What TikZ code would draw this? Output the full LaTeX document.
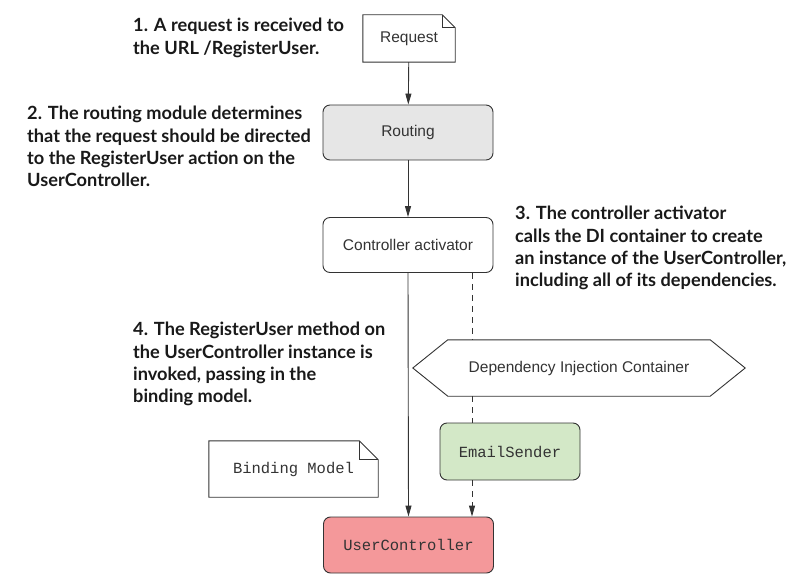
\documentclass[tikz,border=0pt]{standalone}
\usepackage{fontspec}
\setmainfont{Liberation Sans}
\newfontfamily\annotfont{Lato}
\newfontfamily\codefont{Liberation Mono}
\usetikzlibrary{arrows.meta}
\definecolor{linec}{HTML}{333333}
\definecolor{routingfill}{HTML}{E6E6E6}
\definecolor{emailfill}{HTML}{D3E8C7}
\definecolor{ucfill}{HTML}{F4989A}
\begin{document}
\begin{tikzpicture}[x=1pt,y=-1pt,
  box/.style={draw=linec,line width=0.9pt,rounded corners=7pt,minimum width=170pt,minimum height=55pt,font=\fontsize{15.5}{18}\selectfont,text=black!80,inner sep=0pt},
  codebox/.style={box,font=\codefont\fontsize{15.5}{18}\selectfont},
  notebox/.style={inner sep=0pt},
  annot/.style={anchor=north west,align=left,inner sep=0pt,font=\annotfont\bfseries\fontsize{18.2}{22.4}\selectfont,text=black!90},
  arr/.style={draw=linec,line width=0.9pt,-{Triangle[length=11pt,width=6pt]}},
  dsh/.style={draw=linec,line width=0.9pt,dash pattern=on 6pt off 5pt}
]
\useasboundingbox (0,0) rectangle (811,588);
% Request note
\node[notebox,minimum width=92pt,minimum height=47pt,font=\fontsize{15.5}{18}\selectfont,text=black!80] (req) at (409,38.5) {Request};
\draw[linec,line width=0.9pt] (req.south west) -- (req.north west) -- ([xshift=-13pt]req.north east) -- ([yshift=-13pt]req.north east) -- (req.south east) -- cycle;
\draw[linec,line width=0.9pt] ([xshift=-13pt]req.north east) -- ([xshift=-13pt,yshift=-13pt]req.north east) -- ([yshift=-13pt]req.north east);
% Routing
\node[box,fill=routingfill] (rt) at (408,132.5) {Routing};
% Controller activator
\node[box,fill=white] (ca) at (408,245) {Controller activator};
% DI container
\node[inner sep=0pt,minimum width=332pt,minimum height=56pt,font=\fontsize{15.5}{18}\selectfont,text=black!80] (di) at (579,368) {Dependency Injection Container};
\draw[linec,line width=0.9pt] (di.west) -- ([xshift=35pt]di.north west) -- ([xshift=-35pt]di.north east) -- (di.east) -- ([xshift=-35pt]di.south east) -- ([xshift=35pt]di.south west) -- cycle;
% EmailSender
\node[codebox,fill=emailfill,minimum width=140pt,minimum height=57pt] (em) at (510,451.5) {EmailSender};
% UserController
\node[codebox,fill=ucfill,minimum height=56pt] (uc) at (408.5,545) {UserController};
% Binding model note
\node[notebox,minimum width=169pt,minimum height=56pt,font=\codefont\fontsize{15.5}{18}\selectfont,text=black!80] (bm) at (293.5,469) {Binding Model};
\draw[linec,line width=0.9pt] (bm.south west) -- (bm.north west) -- ([xshift=-19pt]bm.north east) -- ([yshift=-19pt]bm.north east) -- (bm.south east) -- cycle;
\draw[linec,line width=0.9pt] ([xshift=-19pt]bm.north east) -- ([xshift=-19pt,yshift=-19pt]bm.north east) -- ([yshift=-19pt]bm.north east);
% connectors
\draw[arr] (req) -- (rt);
\draw[arr] (rt) -- (ca);
\draw[arr] (ca.south) -- (uc.north);
\coordinate (dtop) at ([xshift=64pt]ca.south);
\coordinate (ddi) at (dtop |- di.north);
\draw[dsh] (dtop) -- (ddi);
\coordinate (dem) at (dtop |- em.north);
\draw[dsh] (dtop |- di.south) -- (dem);
\draw[dsh,-{Triangle[length=11pt,width=6pt]}] (dtop |- em.south) -- (dtop |- uc.north);
% annotations
\node[annot] (t1) at (133,18) {1. A request is received to\\the URL /RegisterUser.};
\node[annot] (t2) at (27,106) {2. The routing module determines\\that the request should be directed\\to the RegisterUser action on the\\UserController.};
\node[annot] (t3) at (515,206) {3. The controller activator\\calls the DI container to create\\an instance of the UserController,\\including all of its dependencies.};
\node[annot] (t4) at (133,322) {4. The RegisterUser method on\\the UserController instance is\\invoked, passing in the\\binding model.};
\end{tikzpicture}
\end{document}
